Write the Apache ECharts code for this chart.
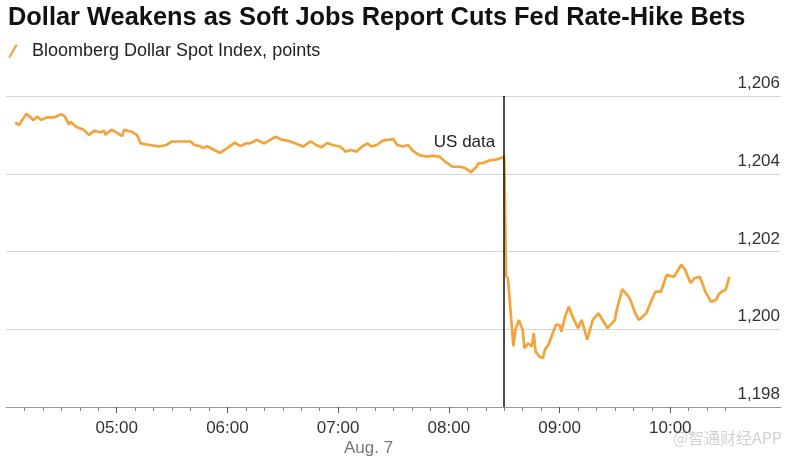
<!DOCTYPE html>
<html><head><meta charset="utf-8">
<script src="https://cdn.jsdelivr.net/npm/echarts@6/dist/echarts.min.js"></script>
<style>html,body{margin:0;padding:0;background:#fff}#c{width:787px;height:462px}</style>
</head><body><div id="c"></div>
<script>
const chartTitle = 'Dollar Weakens as Soft Jobs Report Cuts Fed Rate-Hike Bets';
const seriesName = 'Bloomberg Dollar Spot Index, points';
const dateLabel = 'Aug. 7';
const eventTime = '08:30';
const eventLabel = 'US data';
const watermark = '@智通财经APP';

const times = [
 '04:05','04:07','04:11','04:15','04:17','04:19','04:22','04:26','04:27','04:30','04:32','04:34','04:35','04:38','04:42','04:45','04:48','04:51','04:53','04:54','04:57',
 '05:00','05:03','05:04','05:08','05:11','05:13','05:18','05:23','05:27','05:30','05:33','05:40','05:42','05:45','05:47','05:49','05:52','05:56','05:59',
 '06:04','06:07','06:10','06:12','06:16','06:17','06:20','06:26','06:30','06:34','06:37','06:41','06:45','06:48','06:51','06:54','06:57',
 '07:01','07:04','07:07','07:10','07:13','07:16','07:18','07:21','07:24','07:30','07:32','07:35','07:38','07:40','07:44','07:48','07:51','07:55','07:58',
 '08:02','08:06','08:09','08:12','08:15','08:16','08:18','08:22','08:26','08:28','08:30','08:31','08:32','08:33','08:35','08:36','08:38','08:40','08:41','08:43','08:45','08:46','08:47','08:49','08:51','08:52','08:54','08:56','08:58',
 '09:00','09:01','09:03','09:05','09:07','09:10','09:12','09:15','09:18','09:21','09:26','09:30','09:31','09:34','09:38','09:41','09:43','09:47','09:50','09:52','09:55','09:58',
 '10:02','10:06','10:08','10:11','10:13','10:16','10:19','10:22','10:25','10:26','10:28','10:30','10:32'
];
const values = [
 1205.32,1205.25,1205.54,1205.38,1205.47,1205.38,1205.45,1205.45,1205.42,1205.53,1205.47,1205.27,1205.34,1205.21,1205.13,1205.00,1205.11,1205.06,1205.11,1205.00,1205.13,
 1205.06,1204.97,1205.13,1205.08,1205.00,1204.78,1204.74,1204.70,1204.74,1204.83,1204.83,1204.83,1204.74,1204.71,1204.66,1204.71,1204.63,1204.54,1204.63,
 1204.80,1204.71,1204.78,1204.78,1204.87,1204.83,1204.78,1204.95,1204.87,1204.83,1204.78,1204.70,1204.83,1204.74,1204.68,1204.79,1204.74,
 1204.70,1204.57,1204.61,1204.57,1204.70,1204.78,1204.70,1204.74,1204.85,1204.89,1204.74,1204.70,1204.74,1204.61,1204.48,1204.44,1204.46,1204.44,1204.31,
 1204.18,1204.18,1204.14,1204.04,1204.18,1204.27,1204.27,1204.34,1204.37,1204.40,1204.44,1201.37,1201.31,1201.27,1199.56,1199.98,1200.24,1199.98,1199.51,1199.64,1199.56,1199.90,1199.43,1199.30,1199.26,1199.47,1199.60,1199.86,1200.11,
 1200.11,1199.94,1200.33,1200.58,1200.33,1200.03,1200.24,1199.73,1200.24,1200.41,1200.03,1200.24,1200.50,1201.03,1200.80,1200.41,1200.24,1200.41,1200.76,1200.97,1200.97,1201.40,
 1201.35,1201.66,1201.53,1201.19,1201.31,1201.35,1200.97,1200.71,1200.76,1200.88,1200.97,1201.01,1201.35
];
const hourTickLabels = ['05:00','06:00','07:00','08:00','09:00','10:00'];
const minorTickLabels = [
 '04:10','04:20','04:30','04:40','04:50','05:10','05:20','05:30','05:40','05:50',
 '06:10','06:20','06:30','06:40','06:50','07:10','07:20','07:30','07:40','07:50',
 '08:10','08:20','08:30','08:40','08:50','09:10','09:20','09:30','09:40','09:50',
 '10:10','10:20','10:30'
];
const yTicks = [1198, 1200, 1202, 1204, 1206];
const xStart = '04:00', xEnd = '11:00';

function toMin(t){ const p = t.split(':').map(Number); return (p[0]-4)*60 + p[1]; }
function toLabel(m){ const h = 4 + Math.floor(m/60), mm = m % 60; return String(h).padStart(2,'0') + ':' + String(mm).padStart(2,'0'); }

const seriesData = times.map((t, i) => [toMin(t), values[i]]);
const lineColor = '#F2A43A';
const font = 'Liberation Sans, Arial, Helvetica, sans-serif';

const chart = echarts.init(document.getElementById('c'), null, {renderer: 'canvas'});
chart.setOption({
  animation: false,
  backgroundColor: '#fff',
  title: {
    text: chartTitle, left: 8, top: 5, padding: 0,
    textStyle: {fontFamily: font, fontSize: 25.4, fontWeight: 'bold', color: '#111'}
  },
  legend: {
    left: 8, top: 42, padding: 0, data: [seriesName],
    icon: 'path://M0,13 L2.5,13 L10,0 L7.5,0 Z',
    itemWidth: 10, itemHeight: 13,
    textStyle: {fontFamily: font, fontSize: 18, color: '#222', padding: [0,0,0,9]}
  },
  grid: {left: 6, right: 6, top: 96, bottom: 55, containLabel: false, outerBoundsMode: 'none'},
  xAxis: [{
    type: 'value', min: toMin(xStart), max: toMin(xEnd),
    axisLine: {show: true, lineStyle: {color: '#999', width: 1}},
    axisTick: {show: true, customValues: hourTickLabels.map(toMin), length: 6, lineStyle: {color: '#555'}},
    axisLabel: {show: true, customValues: hourTickLabels.map(toMin), formatter: v => toLabel(v),
      margin: 13, fontFamily: font, fontSize: 17, color: '#333'},
    splitLine: {show: false}
  }, {
    type: 'value', min: toMin(xStart), max: toMin(xEnd), position: 'bottom',
    axisLine: {show: false},
    axisTick: {show: true, customValues: minorTickLabels.map(toMin), length: 4, lineStyle: {color: '#888'}},
    axisLabel: {show: false},
    splitLine: {show: false}
  }],
  yAxis: {
    type: 'value', position: 'right', min: yTicks[0], max: yTicks[yTicks.length-1], interval: 2,
    axisLine: {show: false}, axisTick: {show: false},
    splitLine: {show: true, lineStyle: {color: '#d6d6d6', width: 1}},
    axisLabel: {inside: true, margin: 1, verticalAlign: 'bottom', padding: [0,0,4,0],
      formatter: v => v.toLocaleString('en-US'),
      fontFamily: font, fontSize: 17, color: '#333'}
  },
  graphic: [{
    type: 'text', left: 370 - 26, top: 440,
    style: {text: dateLabel, font: '17px ' + font, fill: '#777'}
  }, {
    type: 'text', right: 5, top: 430,
    style: {text: watermark, font: '16px "Noto Sans CJK SC", sans-serif', fill: 'rgba(190,190,190,0.7)'}
  }],
  series: [{
    name: seriesName, type: 'line', data: seriesData, showSymbol: false, symbol: 'none',
    lineStyle: {color: lineColor, width: 2.7}, itemStyle: {color: lineColor},
    markLine: {
      silent: true, symbol: 'none', animation: false,
      lineStyle: {color: '#111', width: 1.5, type: 'solid'},
      label: {show: false},
      data: [{xAxis: toMin(eventTime)}]
    },
    markPoint: {
      silent: true, symbol: 'circle', symbolSize: 0,
      label: {show: true, position: 'left', distance: 9, formatter: eventLabel,
        fontFamily: font, fontSize: 17, color: '#222'},
      data: [{coord: [toMin(eventTime), 1204.8]}]
    }
  }]
});
</script></body></html>
